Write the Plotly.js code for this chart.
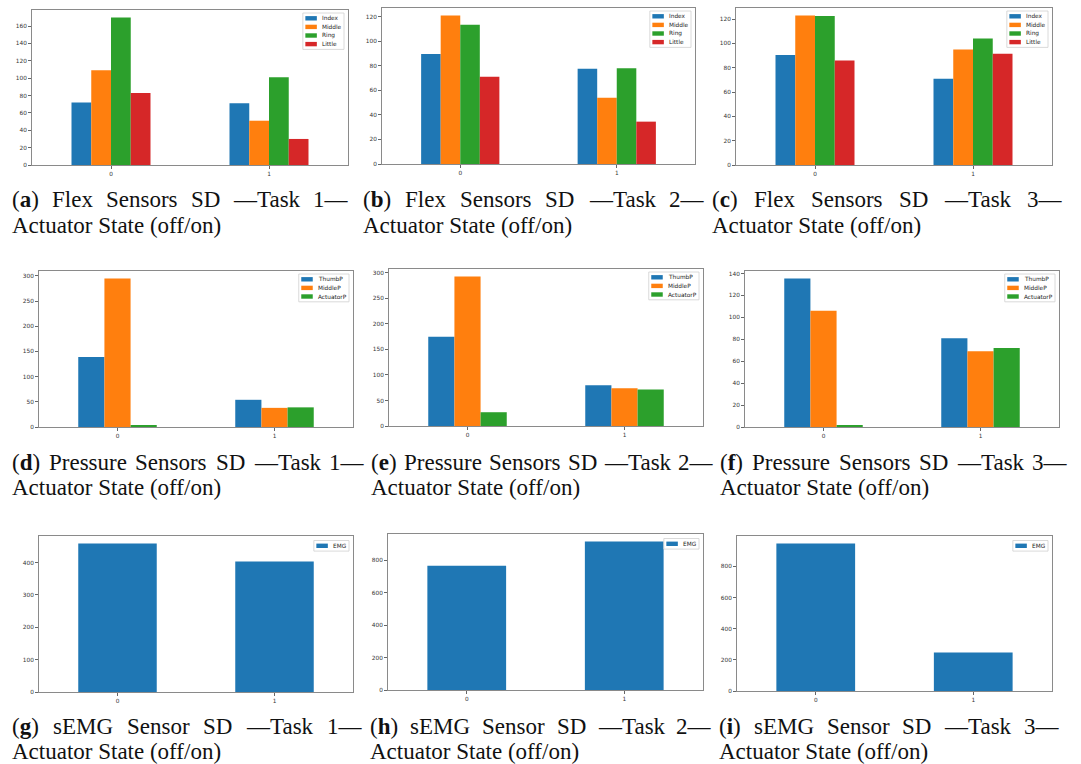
<!DOCTYPE html>
<html>
<head>
<meta charset="utf-8">
<script src="https://cdn.plot.ly/plotly-3.0.1.min.js"></script>
<style>
  html, body { margin: 0; padding: 0; background: #ffffff; }
  #fig { width: 1081px; height: 764px; }
</style>
</head>
<body>
<div id="fig"></div>
<script>
// Standard deviation of each sensor channel, split by actuator state (0 = off, 1 = on)
const states = ["0", "1"];

const fingerNames = ["Index", "Middle", "Ring", "Little"];
const pressureNames = ["ThumbP", "MiddleP", "ActuatorP"];
const emgNames = ["EMG"];

// rows follow fingerNames, columns follow states
const flexTask1 = [[72, 71], [109, 51], [170, 101], [83, 30]];
const flexTask2 = [[89.5, 77.5], [121, 54], [113.5, 78], [71, 34.5]];
const flexTask3 = [[90.5, 71], [123, 95], [122.5, 104], [86, 91.5]];

// rows follow pressureNames
const pressureTask1 = [[139, 54], [295, 38], [4, 39]];
const pressureTask2 = [[175, 80], [293, 74], [27, 71.5]];
const pressureTask3 = [[135.5, 81], [106, 69], [1.2, 72]];

// rows follow emgNames
const emgTask1 = [[459, 403]];
const emgTask2 = [[766, 916]];
const emgTask3 = [[948, 247]];

const seriesColors = ["#1f77b4", "#ff7f0e", "#2ca02c", "#d62728"];

const W = 1081, H = 764;
const px2x = p => p / W;
const px2y = p => 1 - p / H;

// frame boxes in pixels: [left, right, top, bottom]; caption: [start, lineEnd, firstLineCenterY]
const panels = [
  { names: fingerNames,   values: flexTask1,     box: [32, 348, 10, 165],   dtick: 20,  letter: "a", caption: "Flex Sensors SD —Task 1—",     cap: [11, 346, 200] },
  { names: fingerNames,   values: flexTask2,     box: [382, 695, 8, 164],   dtick: 20,  letter: "b", caption: "Flex Sensors SD —Task 2—",     cap: [362, 702, 200] },
  { names: fingerNames,   values: flexTask3,     box: [736, 1052, 8, 165],  dtick: 20,  letter: "c", caption: "Flex Sensors SD —Task 3—",     cap: [711, 1060, 200] },
  { names: pressureNames, values: pressureTask1, box: [39, 353, 271, 427],  dtick: 50,  letter: "d", caption: "Pressure Sensors SD —Task 1—", cap: [11, 362, 462] },
  { names: pressureNames, values: pressureTask2, box: [389, 703, 269, 426], dtick: 50,  letter: "e", caption: "Pressure Sensors SD —Task 2—", cap: [370, 711, 462] },
  { names: pressureNames, values: pressureTask3, box: [745, 1059, 271, 427],dtick: 20,  letter: "f", caption: "Pressure Sensors SD —Task 3—", cap: [719, 1066, 462] },
  { names: emgNames,      values: emgTask1,      box: [39, 353, 536, 692],  dtick: 100, letter: "g", caption: "sEMG Sensor SD —Task 1—",      cap: [11, 360, 726] },
  { names: emgNames,      values: emgTask2,      box: [388, 703, 534, 690], dtick: 200, letter: "h", caption: "sEMG Sensor SD —Task 2—",      cap: [369, 710, 726] },
  { names: emgNames,      values: emgTask3,      box: [737, 1052, 536, 691],dtick: 200, letter: "i", caption: "sEMG Sensor SD —Task 3—",      cap: [718, 1057, 726] }
];

const secondLine = "Actuator State (off/on)";
const capFont = "Liberation Serif";
const capSize = 23;
const capLineGap = 25;
const legFont = "DejaVu Sans";
const legSize = 5.8;

const canvas = document.createElement("canvas");
const ctx = canvas.getContext("2d");
function textWidth(str, size, family, bold) {
  ctx.font = (bold ? "bold " : "") + size + "px \"" + family + "\"";
  return ctx.measureText(str).width;
}

const traces = [];
const shapes = [];
const annotations = [];
const layout = {
  width: W, height: H,
  margin: { l: 0, r: 0, t: 0, b: 0 },
  paper_bgcolor: "#ffffff",
  plot_bgcolor: "#ffffff",
  showlegend: false,
  barmode: "group",
  bargap: 0.5,
  bargroupgap: 0,
  font: { family: "DejaVu Sans", color: "#333333" }
};

panels.forEach((p, idx) => {
  const n = idx + 1;
  const xa = "x" + (n === 1 ? "" : n);
  const ya = "y" + (n === 1 ? "" : n);
  const [l, r, t, b] = p.box;

  p.names.forEach((name, k) => {
    traces.push({
      type: "bar",
      name: name,
      x: states,
      y: p.values[k],
      xaxis: xa, yaxis: ya,
      marker: { color: seriesColors[k], line: { width: 0 } },
      hoverinfo: "x+y+name"
    });
  });

  const maxVal = Math.max(...p.values.flat());
  const common = {
    showline: true, mirror: true, linecolor: "#8a8a8a", linewidth: 1,
    showgrid: false, zeroline: false,
    ticks: "outside", ticklen: 3, tickwidth: 0.8, tickcolor: "#666666",
    tickfont: { family: "DejaVu Sans", size: 5.8, color: "#333333" },
    fixedrange: true
  };
  layout["xaxis" + (n === 1 ? "" : n)] = Object.assign({}, common, {
    domain: [px2x(l), px2x(r)],
    anchor: ya,
    type: "category",
    range: [-0.5, 1.5]
  });
  layout["yaxis" + (n === 1 ? "" : n)] = Object.assign({}, common, {
    domain: [px2y(b), px2y(t)],
    anchor: xa,
    range: [0, maxVal * 1.05],
    tick0: 0,
    dtick: p.dtick
  });

  // legend box in the upper right corner of the frame
  const itemH = 8.6;
  const tw = Math.max(...p.names.map(s => textWidth(s, legSize, legFont, false)));
  const boxW = 18 + tw + 4;
  const boxH = p.names.length * itemH + 2;
  const lr = r - 4, lt = t + 3 + (p.names.length === 1 ? 1.5 : 0);
  const ll = lr - boxW;
  shapes.push({
    type: "rect", xref: "paper", yref: "paper",
    x0: px2x(ll), x1: px2x(lr), y0: px2y(lt + boxH), y1: px2y(lt),
    line: { color: "#d0d0d0", width: 0.8 }, fillcolor: "rgba(255,255,255,0.85)", layer: "above"
  });
  p.names.forEach((name, k) => {
    const cy = lt + 1 + (k + 0.5) * itemH;
    shapes.push({
      type: "rect", xref: "paper", yref: "paper",
      x0: px2x(ll + 2.5), x1: px2x(ll + 14), y0: px2y(cy + 2.2), y1: px2y(cy - 2.2),
      line: { width: 0 }, fillcolor: seriesColors[k], layer: "above"
    });
    annotations.push({
      xref: "paper", yref: "paper", x: px2x(ll + 18), y: px2y(cy),
      xanchor: "left", yanchor: "middle", showarrow: false, borderpad: 0,
      text: name, font: { family: legFont, size: legSize, color: "#222222" }
    });
  });

  // justified first caption line, plain second line
  const [cs, ce, cy1] = p.cap;
  const words = ["(" + p.letter + ")"].concat(p.caption.split(" "));
  const widths = words.map((w, i) => i === 0
    ? textWidth("(", capSize, capFont, false) + textWidth(p.letter, capSize, capFont, true) + textWidth(")", capSize, capFont, false)
    : textWidth(w, capSize, capFont, false));
  const gap = (ce - cs - widths.reduce((a, c) => a + c, 0)) / (words.length - 1);
  let cx = cs;
  words.forEach((w, i) => {
    annotations.push({
      xref: "paper", yref: "paper", x: px2x(cx), y: px2y(cy1),
      xanchor: "left", yanchor: "middle", showarrow: false, borderpad: 0,
      text: i === 0 ? "(<b>" + p.letter + "</b>)" : w,
      font: { family: capFont, size: capSize, color: "#111111" }
    });
    cx += widths[i] + gap;
  });
  annotations.push({
    xref: "paper", yref: "paper", x: px2x(cs), y: px2y(cy1 + capLineGap),
    xanchor: "left", yanchor: "middle", showarrow: false, borderpad: 0,
    text: secondLine,
    font: { family: capFont, size: capSize, color: "#111111" }
  });
});

layout.shapes = shapes;
layout.annotations = annotations;

Plotly.newPlot("fig", traces, layout, { displayModeBar: false, responsive: false });
</script>
</body>
</html>
